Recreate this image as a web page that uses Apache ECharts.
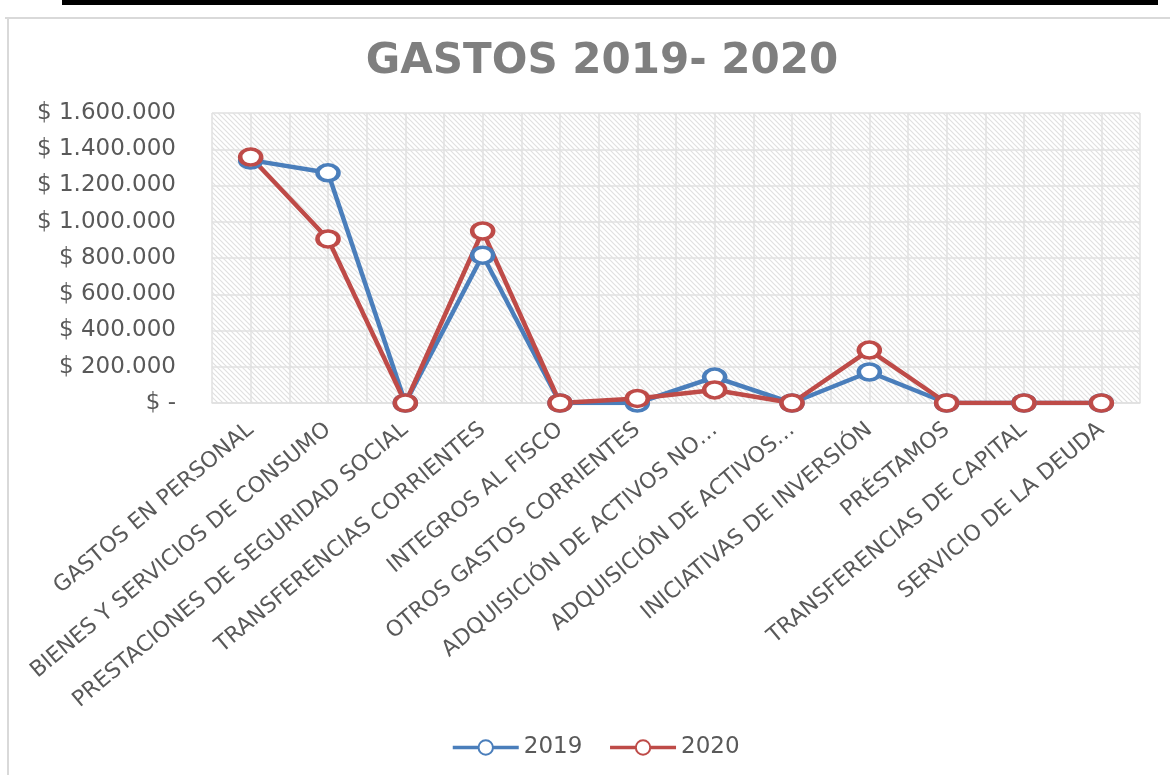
<html>
    <head>
        <meta charset="utf-8">
        <script src="https://cdn.jsdelivr.net/npm/echarts@6/dist/echarts.min.js"></script>
        <style>
            html, body { margin: 0; padding: 0; background: #fff; }
            #main { width: 1170px; height: 775px; }
        </style>
    </head>
    <body>
        <div id="main"></div>
        <script>

        var categories = [
            'GASTOS EN PERSONAL',
            'BIENES Y SERVICIOS DE CONSUMO',
            'PRESTACIONES DE SEGURIDAD SOCIAL',
            'TRANSFERENCIAS CORRIENTES',
            'INTEGROS AL FISCO',
            'OTROS GASTOS CORRIENTES',
            'ADQUISICIÓN DE ACTIVOS NO…',
            'ADQUISICIÓN DE ACTIVOS…',
            'INICIATIVAS DE INVERSIÓN',
            'PRÉSTAMOS',
            'TRANSFERENCIAS DE CAPITAL',
            'SERVICIO DE LA DEUDA'
        ];
        var gastos2019 = [1340000, 1270000, 0, 815000, 0, 0, 143000, 0, 171000, 0, 0, 0];
        var gastos2020 = [1357000, 905000, 0, 949000, 0, 25000, 72000, 0, 292000, 0, 0, 0];
        var yTicks = [0, 200000, 400000, 600000, 800000, 1000000, 1200000, 1400000, 1600000];

        // hatch pattern for the plot area
        var tile = document.createElement('canvas');
        tile.width = 5;
        tile.height = 5;
        var ctx = tile.getContext('2d');
        ctx.fillStyle = '#ffffff';
        ctx.fillRect(0, 0, 5, 5);
        ctx.strokeStyle = '#e0e0e0';
        ctx.lineWidth = 1.2;
        ctx.beginPath();
        ctx.moveTo(-1, -1); ctx.lineTo(6, 6);
        ctx.moveTo(-1, 4); ctx.lineTo(1, 6);
        ctx.moveTo(4, -1); ctx.lineTo(6, 1);
        ctx.stroke();

        function money(v) {
            if (v === 0) return '$ -';
            return '$ ' + String(v).replace(/\B(?=(\d{3})+(?!\d))/g, '.');
        }

        var myChart = echarts.init(document.getElementById('main'));

        option = {
            backgroundColor: '#fff',
            title: {
                text: 'GASTOS 2019- 2020',
                left: 597,
                textAlign: 'center',
                top: 36,
                textStyle: {
                    fontFamily: 'DejaVu Sans',
                    fontWeight: 'bold',
                    fontSize: 42,
                    color: '#7f7f7f'
                }
            },
            legend: {
                data: ['2019', '2020'],
                bottom: 11,
                left: 446,
                itemWidth: 66,
                itemHeight: 18,
                itemGap: 26,
                lineStyle: { width: 3.5 },
                textStyle: {
                    fontFamily: 'DejaVu Sans',
                    fontSize: 23,
                    color: '#595959'
                }
            },
            graphic: [
                { type: 'rect', shape: { x: 62, y: 0, width: 1096, height: 5 }, style: { fill: '#000' } },
                { type: 'rect', shape: { x: 5, y: 17, width: 1170, height: 2 }, style: { fill: '#d9d9d9' } },
                { type: 'rect', shape: { x: 7, y: 17, width: 2, height: 760 }, style: { fill: '#d9d9d9' } }
            ],
            grid: {
                left: 212,
                right: 30,
                top: 113,
                bottom: 372,
                show: true,
                borderWidth: 0,
                backgroundColor: { image: tile, repeat: 'repeat' }
            },
            xAxis: [
                {
                    type: 'category',
                    data: categories,
                    boundaryGap: true,
                    axisLine: { lineStyle: { color: '#e0e0e0', width: 1.5 } },
                    axisTick: { show: false },
                    splitLine: { show: false },
                    axisLabel: {
                        interval: 0,
                        rotate: 40,
                        margin: 24,
                        fontFamily: 'DejaVu Sans',
                        fontSize: 22,
                        color: '#595959'
                    }
                },
                {
                    // half-category vertical gridlines
                    type: 'value',
                    min: 0,
                    max: 24,
                    interval: 1,
                    position: 'bottom',
                    axisLine: { show: false },
                    axisTick: { show: false },
                    axisLabel: { show: false },
                    splitLine: { show: true, lineStyle: { color: '#e0e0e0', width: 1.5 } }
                }
            ],
            yAxis: {
                type: 'value',
                min: yTicks[0],
                max: yTicks[yTicks.length - 1],
                interval: yTicks[1] - yTicks[0],
                axisLine: { show: false },
                axisTick: { show: false },
                axisLabel: {
                    margin: 36,
                    fontFamily: 'DejaVu Sans',
                    fontSize: 23,
                    color: '#595959',
                    formatter: money
                },
                splitLine: { lineStyle: { color: '#e0e0e0', width: 1.5 } }
            },
            series: [
                {
                    name: '2019',
                    type: 'line',
                    data: gastos2019,
                    symbol: 'circle',
                    symbolSize: [21, 16],
                    lineStyle: { color: '#4a7ebb', width: 4.5 },
                    itemStyle: { color: '#fff', borderColor: '#4a7ebb', borderWidth: 4 }
                },
                {
                    name: '2020',
                    type: 'line',
                    data: gastos2020,
                    symbol: 'circle',
                    symbolSize: [21, 16],
                    lineStyle: { color: '#be4b48', width: 4.5 },
                    itemStyle: { color: '#fff', borderColor: '#be4b48', borderWidth: 4 }
                }
            ]
        };

        myChart.setOption(option);

        </script>
    </body>
</html>
